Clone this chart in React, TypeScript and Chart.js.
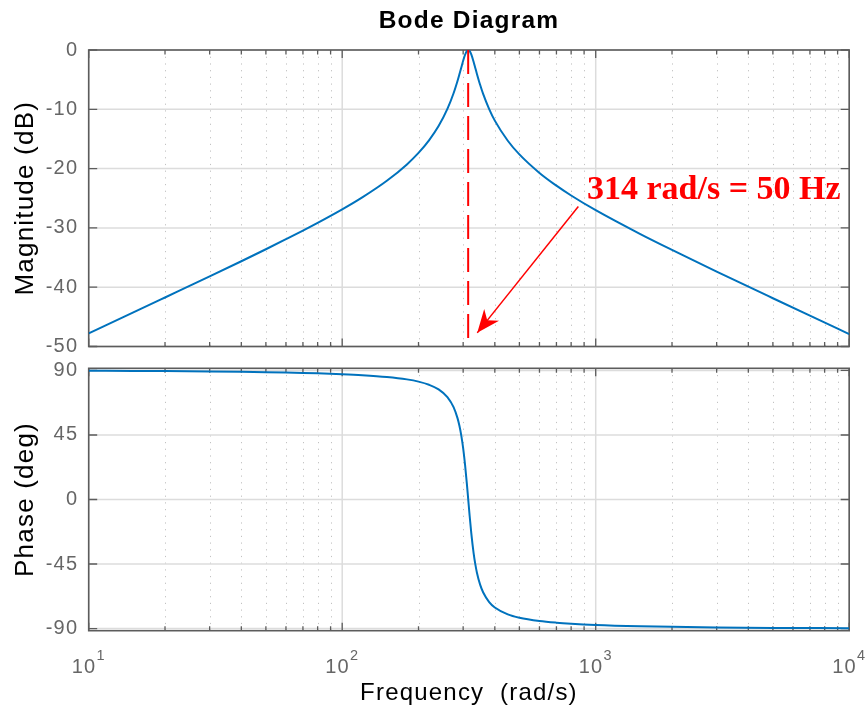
import React, { useEffect, useRef } from "react";
import { Chart, registerables } from "chart.js";

Chart.register(...registerables);

// ---------- data ----------
const frequencies = [
  10, 15, 20, 30, 40, 50, 60, 70, 80, 100, 120, 150, 180, 200, 220, 240, 260, 275, 285, 290,
  295, 300, 305, 310, 314, 318, 323, 330, 335, 340, 350, 360, 380, 400, 450, 500, 600, 700,
  800, 1000, 1500, 2000, 3000, 5000, 7000, 10000,
];
const magnitudeDb = [
  -47.79, -44.26, -41.74, -38.18, -35.62, -33.6, -31.91, -30.46, -29.16, -26.88, -24.86, -22.06,
  -19.29, -17.35, -15.23, -12.82, -9.93, -7.29, -5.22, -4.09, -2.94, -1.82, -0.84, -0.18, 0.0,
  -0.15, -0.75, -2.02, -3.03, -4.03, -5.87, -7.45, -9.97, -11.91, -15.3, -17.61, -20.73, -22.88,
  -24.54, -27.02, -31.05, -33.72, -37.36, -41.86, -44.8, -47.9,
];
const phaseDeg = [
  89.77, 89.65, 89.53, 89.29, 89.05, 88.8, 88.55, 88.28, 88.0, 87.4, 86.72, 85.47, 83.77, 82.2,
  80.02, 76.78, 71.42, 64.39, 56.73, 51.38, 44.54, 35.78, 24.81, 11.76, 0.46, -10.75, -23.44,
  -37.56, -45.12, -51.03, -59.4, -64.9, -71.51, -75.3, -80.11, -82.43, -84.72, -85.89, -86.6,
  -87.45, -88.39, -88.82, -89.22, -89.54, -89.67, -89.77,
];
const magTicks = [0, -10, -20, -30, -40, -50];
const phaseTicks = [90, 45, 0, -45, -90];
const decadeTicks = [10, 100, 1000, 10000];
const decadeBase = "10";
const decadeExponents = ["1", "2", "3", "4"];
const minorMultipliers = [2, 3, 4, 5, 6, 7, 8, 9];
const markerFreq = 314;
const annotationText = "314 rad/s = 50 Hz";
const annotationPos = [924, -25.2];
const arrowFrom = [854, -26.4];
const arrowTo = [341, -47.7];

// ---------- styling ----------
const SANS = '"Liberation Sans", Arial, Helvetica, sans-serif';
const SERIF = '"Liberation Serif", "Times New Roman", serif';
const BLUE = "#0072BD";
const RED = "#ff0000";
const TICK_GRAY = "#666666";
const W = 867;
const PLOT_LEFT = 88.7;
const PLOT_RIGHT = 849.2;
const SPACING = "1.2px";

const isDecade = (v: number) => decadeTicks.some((d) => Math.abs(d - v) < d * 1e-6);

const zeroPadding = (s: any) => {
  s.paddingTop = 0;
  s.paddingBottom = 0;
  s.paddingLeft = 0;
  s.paddingRight = 0;
};

const framePlugin = {
  id: "bodeFrame",
  beforeUpdate(chart: any) {
    chart.ctx.letterSpacing = SPACING;
  },
  beforeDraw(chart: any) {
    chart.ctx.letterSpacing = SPACING;
  },
  beforeDatasetsDraw(chart: any) {
    const { ctx, chartArea: a, scales } = chart;
    const xs = scales.x;
    const ys = scales.y;
    const yTickVals: number[] = chart.options.scales.y.tickValues;
    ctx.save();
    // minor dotted x grid
    ctx.strokeStyle = "#c2c2c2";
    ctx.lineWidth = 1;
    ctx.setLineDash([1.2, 5.5]);
    const minorVals: number[] = [];
    decadeTicks.forEach((d) => {
      minorMultipliers.forEach((m) => {
        if (d * m < decadeTicks[decadeTicks.length - 1]) minorVals.push(d * m);
      });
    });
    minorVals.forEach((v) => {
      const px = Math.round(xs.getPixelForValue(v)) + 0.5;
      ctx.beginPath();
      ctx.moveTo(px, a.top);
      ctx.lineTo(px, a.bottom);
      ctx.stroke();
    });
    ctx.setLineDash([]);
    // major solid grid
    ctx.strokeStyle = "#dcdcdc";
    ctx.lineWidth = 1.5;
    decadeTicks.forEach((v) => {
      const px = xs.getPixelForValue(v);
      ctx.beginPath();
      ctx.moveTo(px, a.top);
      ctx.lineTo(px, a.bottom);
      ctx.stroke();
    });
    yTickVals.forEach((v) => {
      const py = ys.getPixelForValue(v);
      ctx.beginPath();
      ctx.moveTo(a.left, py);
      ctx.lineTo(a.right, py);
      ctx.stroke();
    });
    // box
    ctx.strokeStyle = "#5c5c5c";
    ctx.lineWidth = 1.6;
    ctx.strokeRect(a.left, a.top, a.right - a.left, a.bottom - a.top);
    // inward ticks
    ctx.lineWidth = 1.3;
    const xTickVals = [...decadeTicks, ...minorVals];
    xTickVals.forEach((v) => {
      const px = xs.getPixelForValue(v);
      const len = isDecade(v) ? 8 : 4.5;
      ctx.beginPath();
      ctx.moveTo(px, a.bottom);
      ctx.lineTo(px, a.bottom - len);
      ctx.moveTo(px, a.top);
      ctx.lineTo(px, a.top + len);
      ctx.stroke();
    });
    yTickVals.forEach((v) => {
      const py = ys.getPixelForValue(v);
      ctx.beginPath();
      ctx.moveTo(a.left, py);
      ctx.lineTo(a.left + 8.5, py);
      ctx.moveTo(a.right, py);
      ctx.lineTo(a.right - 8.5, py);
      ctx.stroke();
    });
    ctx.restore();
  },
};

// decade labels "10^n" with a raised exponent, placed through the x scale
const decadeLabelPlugin = {
  id: "decadeLabels",
  afterDraw(chart: any) {
    const { ctx, chartArea: a, scales } = chart;
    const xs = scales.x;
    ctx.save();
    ctx.letterSpacing = SPACING;
    ctx.fillStyle = TICK_GRAY;
    ctx.textBaseline = "alphabetic";
    ctx.textAlign = "left";
    const baseFont = `20px ${SANS}`;
    const expFont = `14.5px ${SANS}`;
    decadeTicks.forEach((d, i) => {
      const px = xs.getPixelForValue(d);
      ctx.font = baseFont;
      const wb = ctx.measureText(decadeBase).width;
      ctx.font = expFont;
      const we = ctx.measureText(decadeExponents[i]).width;
      const x0 = px - (wb + we) / 2;
      ctx.font = baseFont;
      ctx.fillText(decadeBase, x0, a.bottom + 42);
      ctx.font = expFont;
      ctx.fillText(decadeExponents[i], x0 + wb, a.bottom + 29.5);
    });
    ctx.restore();
  },
};

const annotationPlugin = {
  id: "bodeAnnotation",
  afterDatasetsDraw(chart: any) {
    const { ctx, scales } = chart;
    const xs = scales.x;
    const ys = scales.y;
    ctx.save();
    ctx.letterSpacing = "0px";
    // arrow head
    const fx = xs.getPixelForValue(arrowFrom[0]);
    const fy = ys.getPixelForValue(arrowFrom[1]);
    const tx = xs.getPixelForValue(arrowTo[0]);
    const ty = ys.getPixelForValue(arrowTo[1]);
    const len = Math.hypot(tx - fx, ty - fy);
    const ux = (tx - fx) / len;
    const uy = (ty - fy) / len;
    const nx = -uy;
    const ny = ux;
    const L = 23;
    const hw = 9.5;
    const notch = 7;
    const bx = tx - ux * L;
    const by = ty - uy * L;
    ctx.fillStyle = RED;
    ctx.beginPath();
    ctx.moveTo(tx, ty);
    ctx.lineTo(bx + nx * hw, by + ny * hw);
    ctx.lineTo(tx - ux * (L - notch), ty - uy * (L - notch));
    ctx.lineTo(bx - nx * hw, by - ny * hw);
    ctx.closePath();
    ctx.fill();
    // label
    ctx.font = `bold 34px ${SERIF}`;
    ctx.textAlign = "left";
    ctx.textBaseline = "alphabetic";
    ctx.fillText(annotationText, xs.getPixelForValue(annotationPos[0]), ys.getPixelForValue(annotationPos[1]));
    ctx.restore();
  },
};

const yTickOpts = {
  color: TICK_GRAY,
  font: { family: SANS, size: 20 },
  padding: 10.5,
};

const yTitleFont = { family: SANS, size: 26 };
const yTitlePadding = { top: 10.4, bottom: 0 };

export default function App() {
  const topRef = useRef<HTMLCanvasElement>(null);
  const botRef = useRef<HTMLCanvasElement>(null);

  useEffect(() => {
    const magPoints = frequencies.map((f, i) => ({ x: f, y: magnitudeDb[i] }));
    const phasePoints = frequencies.map((f, i) => ({ x: f, y: phaseDeg[i] }));

    const top = new Chart(topRef.current as HTMLCanvasElement, {
      type: "line",
      data: {
        datasets: [
          {
            data: [
              { x: markerFreq, y: magTicks[0] },
              { x: markerFreq, y: magTicks[magTicks.length - 1] },
            ],
            borderColor: RED,
            borderWidth: 2,
            borderDash: [24, 9],
            pointRadius: 0,
            fill: false,
          },
          {
            data: [
              { x: arrowFrom[0], y: arrowFrom[1] },
              { x: arrowTo[0], y: arrowTo[1] },
            ],
            borderColor: RED,
            borderWidth: 1.5,
            pointRadius: 0,
            fill: false,
          },
          {
            data: magPoints,
            borderColor: BLUE,
            borderWidth: 2,
            pointRadius: 0,
            fill: false,
            cubicInterpolationMode: "monotone",
          },
        ],
      },
      options: {
        animation: false,
        responsive: false,
        devicePixelRatio: 1,
        events: [],
        layout: { padding: { left: 0, right: W - PLOT_RIGHT, top: 0, bottom: 13.5 } },
        plugins: {
          legend: { display: false },
          tooltip: { enabled: false },
          title: {
            display: true,
            text: "Bode Diagram",
            fullSize: false,
            color: "#000000",
            font: { family: SANS, size: 24.5, weight: "bold" },
            padding: { top: 6.5, bottom: 14.1 },
          },
        },
        scales: {
          x: {
            type: "logarithmic",
            min: decadeTicks[0],
            max: decadeTicks[decadeTicks.length - 1],
            display: false,
            afterFit: zeroPadding,
          },
          y: {
            min: magTicks[magTicks.length - 1],
            max: magTicks[0],
            tickValues: magTicks,
            afterBuildTicks: (s: any) => {
              s.ticks = magTicks.map((v) => ({ value: v }));
            },
            afterFit: (s: any) => {
              s.width = PLOT_LEFT;
              zeroPadding(s);
            },
            grid: { display: false, drawTicks: false },
            border: { display: false },
            ticks: yTickOpts,
            title: {
              display: true,
              text: "Magnitude (dB)",
              color: "#000000",
              font: yTitleFont,
              padding: yTitlePadding,
            },
          } as any,
        },
      },
      plugins: [framePlugin, annotationPlugin],
    } as any);

    const bottom = new Chart(botRef.current as HTMLCanvasElement, {
      type: "line",
      data: {
        datasets: [
          {
            data: phasePoints,
            borderColor: BLUE,
            borderWidth: 2,
            pointRadius: 0,
            fill: false,
            cubicInterpolationMode: "monotone",
          },
        ],
      },
      options: {
        animation: false,
        responsive: false,
        devicePixelRatio: 1,
        events: [],
        layout: { padding: { left: 0, right: W - PLOT_RIGHT, top: 13.3, bottom: 0 } },
        plugins: {
          legend: { display: false },
          tooltip: { enabled: false },
          title: { display: false },
        },
        scales: {
          x: {
            type: "logarithmic",
            min: decadeTicks[0],
            max: decadeTicks[decadeTicks.length - 1],
            afterFit: (s: any) => {
              s.height = 82.3;
              zeroPadding(s);
            },
            grid: { display: false, drawTicks: false },
            border: { display: false },
            ticks: { display: false },
            title: {
              display: true,
              text: "Frequency  (rad/s)",
              color: "#000000",
              font: { family: SANS, size: 24 },
              padding: { top: 0, bottom: 4.9 },
            },
          },
          y: {
            min: -91.5,
            max: 91.5,
            tickValues: phaseTicks,
            afterBuildTicks: (s: any) => {
              s.ticks = phaseTicks.map((v) => ({ value: v }));
            },
            afterFit: (s: any) => {
              s.width = PLOT_LEFT;
              zeroPadding(s);
            },
            grid: { display: false, drawTicks: false },
            border: { display: false },
            ticks: yTickOpts,
            title: {
              display: true,
              text: "Phase (deg)",
              color: "#000000",
              font: yTitleFont,
              padding: yTitlePadding,
            },
          } as any,
        },
      },
      plugins: [framePlugin, decadeLabelPlugin],
    } as any);

    return () => {
      top.destroy();
      bottom.destroy();
    };
  }, []);

  return (
    <div
      style={{
        position: "fixed",
        left: 0,
        top: 0,
        width: W,
        height: 713,
        background: "#ffffff",
        overflow: "hidden",
      }}
    >
      <canvas
        ref={topRef}
        width={W}
        height={360}
        style={{ position: "absolute", left: 0, top: 0, width: W, height: 360 }}
      />
      <canvas
        ref={botRef}
        width={W}
        height={358}
        style={{ position: "absolute", left: 0, top: 355, width: W, height: 358 }}
      />
    </div>
  );
}
